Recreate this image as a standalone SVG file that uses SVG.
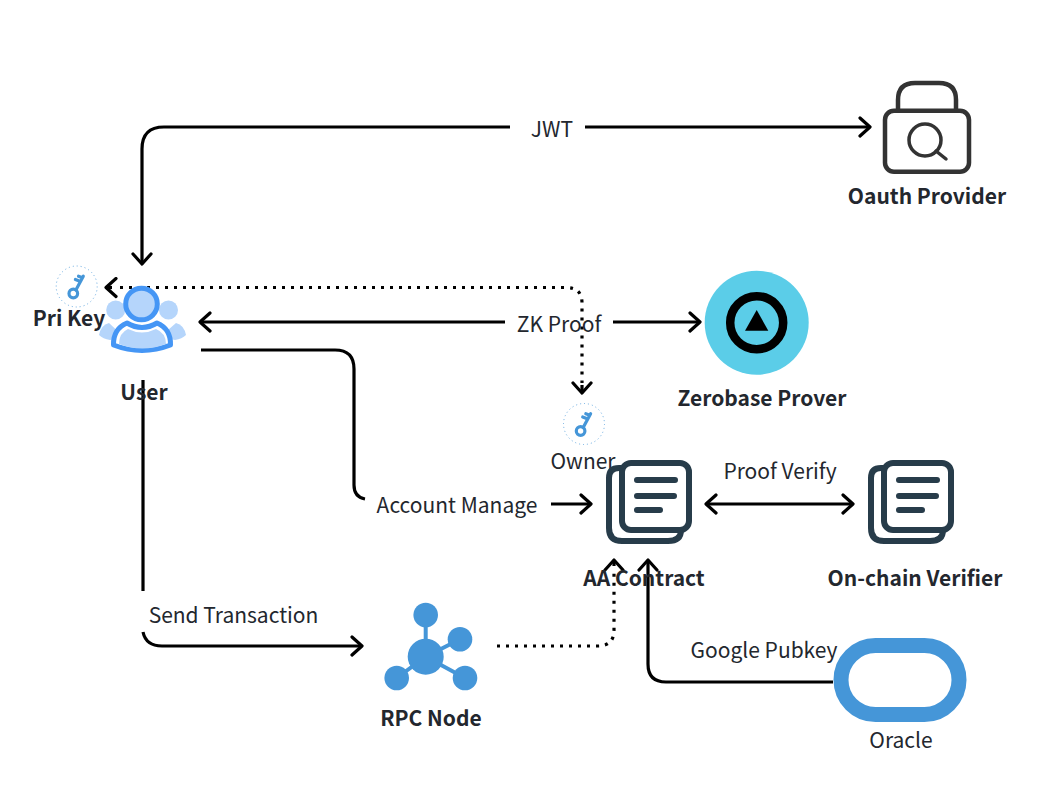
<svg xmlns="http://www.w3.org/2000/svg" width="1046" height="794" viewBox="0 0 1046 794">
<style>
.t{font-family:"Noto Sans CJK SC","Noto Sans",sans-serif;font-size:21px;fill:#23272e;text-anchor:middle}
.b{font-weight:700}
.c{fill:none;stroke:#000;stroke-width:3.200;stroke-linejoin:round}
.d{stroke-dasharray:3 6}
.doc{fill:none;stroke:#273c4a;stroke-width:6;stroke-linejoin:round}
.bar{stroke:#273c4a;stroke-width:6;stroke-linecap:round;fill:none}
.kc{fill:none;stroke:#4596d8;stroke-width:1;stroke-dasharray:1 3;opacity:.8}
.k{fill:none;stroke:#4596d8;stroke-width:3.200;stroke-linecap:round}
</style>
<defs>
<marker id="a" viewBox="-13 -11 15 22" refX="0" refY="0" markerWidth="15" markerHeight="22" markerUnits="userSpaceOnUse" orient="auto-start-reverse">
<path d="M-10-9L0 0L-10 9" fill="none" stroke="#000" stroke-width="3.200" stroke-linecap="round" stroke-linejoin="round"/>
</marker>
<g id="key">
<circle r="20.500" class="kc"/>
<circle cx="-3.400" cy="7" r="4.300" class="k"/>
<path class="k" d="M-0.800 3.500L6.600-10.300M3.800-5L-1.300-7M5.800-8.800L1.800-10.300"/>
</g>
<g id="docs">
<path class="doc" d="M15 8H13Q3 8 3 18V68Q3 81 16 81H62Q75 81 75 70V68"/>
<rect class="doc" x="16" y="3" width="67" height="67" rx="9"/>
<path class="bar" d="M31 20H69M31 36H68M31 50H54"/>
</g>
</defs>
<g id="connectors">
<path class="c" marker-end="url(#a)" d="M510 127H164Q142 127 142 149V264"/>
<path class="c" marker-end="url(#a)" d="M585 127H870"/>
<path class="c d" d="M120 287.500H566Q582 287.500 582 303V383"/>
<path class="c" marker-end="url(#a)" d="M112 287.500H106"/>
<path class="c" marker-end="url(#a)" d="M582 385V393"/>
<path class="c" marker-end="url(#a)" d="M505 322H200"/>
<path class="c" marker-end="url(#a)" d="M613 322H700"/>
<path class="c" d="M201 350H335Q354 350 354 369V485Q354 497 365 499"/>
<path class="c" marker-end="url(#a)" d="M551 504H591"/>
<path class="c" marker-start="url(#a)" marker-end="url(#a)" d="M706 504H853"/>
<path class="c" d="M143 380V591"/>
<path class="c" marker-end="url(#a)" d="M143 632Q146 646 162 646H362"/>
<path class="c d" d="M497 646H598Q614 646 614 630V570"/>
<path class="c" marker-end="url(#a)" d="M614 566V560"/>
<path class="c" marker-end="url(#a)" d="M833 682H666Q648 682 648 664V560"/>
</g>
<g id="oauth">
<rect x="885" y="110.700" width="84" height="61" rx="9" fill="none" stroke="#333" stroke-width="4.500"/>
<path d="M898 110V100Q898 83 915 83H939Q956 83 956 100V110" fill="none" stroke="#333" stroke-width="4.500"/>
<circle cx="925" cy="140" r="16" fill="none" stroke="#333" stroke-width="3.500"/>
<path d="M936 151L946 159" fill="none" stroke="#333" stroke-width="3.500" stroke-linecap="round"/>
<text class="t b" x="927" y="204">Oauth Provider</text>
</g>
<g id="prover">
<circle cx="756.700" cy="322.700" r="52" fill="#5bcde8"/>
<circle cx="756.700" cy="322.700" r="26.500" fill="none" stroke="#000" stroke-width="8.500"/>
<path d="M756.700 310L768.300 330.700H745Z" fill="#000"/>
<text class="t b" x="762" y="406">Zerobase Prover</text>
</g>
<g id="user">
<circle cx="115.700" cy="310" r="9.500" fill="#b5d5fb"/>
<circle cx="168.500" cy="310" r="9.500" fill="#b5d5fb"/>
<path d="M99 335Q101 325 109 323L124 337L110 340Q103 339 99 335Z" fill="#b5d5fb"/>
<path d="M186 335Q184 325 176 323L160 337L175 340Q182 339 186 335Z" fill="#b5d5fb"/>
<circle cx="141.500" cy="304" r="15.800" fill="#b5d5fb" stroke="#4596f5" stroke-width="5"/>
<path d="M113.500 345Q113 329 127 323Q142 332 157 323Q171 329 170.500 345Q142 356 113.500 345Z" fill="#fff" stroke="#4596f5" stroke-width="5" stroke-linejoin="round"/>
<path d="M119 344Q119 333 128 329Q142 336 156 329Q166 333 166 344Q142 353 119 344Z" fill="#b5d5fb"/>
<text class="t b" x="144" y="400">User</text>
</g>
<g id="prikey">
<use href="#key" x="76.700" y="286.500"/>
<text class="t b" x="69" y="326">Pri Key</text>
</g>
<g id="owner">
<use href="#key" x="584" y="424"/>
<text class="t" x="583" y="469">Owner</text>
</g>
<g id="aa">
<use href="#docs" x="606" y="460"/>
<text class="t b" x="644" y="586">AA Contract</text>
</g>
<g id="verifier">
<use href="#docs" x="868" y="460"/>
<text class="t b" x="915" y="586">On-chain Verifier</text>
</g>
<g id="rpc" fill="#4596d8">
<path d="M425.700 615V656.700L460 639.300M425.700 656.700L465 678M425.700 656.700L396.700 678" stroke="#4596d8" stroke-width="4" fill="none"/>
<circle cx="425.700" cy="656.700" r="18"/>
<circle cx="425.700" cy="615" r="12.300"/>
<circle cx="460" cy="639.300" r="12.300"/>
<circle cx="465" cy="678" r="12.300"/>
<circle cx="396.700" cy="678" r="12.300"/>
<text class="t b" x="431" y="726" style="fill:#23272e">RPC Node</text>
</g>
<g id="oracle">
<rect x="841" y="645.500" width="118" height="69" rx="34.500" fill="none" stroke="#4596d8" stroke-width="15"/>
<text class="t" x="901" y="748">Oracle</text>
</g>
<g id="labels">
<text class="t" x="552" y="136.500">JWT</text>
<text class="t" x="559" y="331.500">ZK Proof</text>
<text class="t" x="457" y="512.500">Account Manage</text>
<text class="t" x="780" y="479">Proof Verify</text>
<text class="t" x="233.500" y="622.500">Send Transaction</text>
<text class="t" x="764" y="657.500">Google Pubkey</text>
</g>
</svg>
